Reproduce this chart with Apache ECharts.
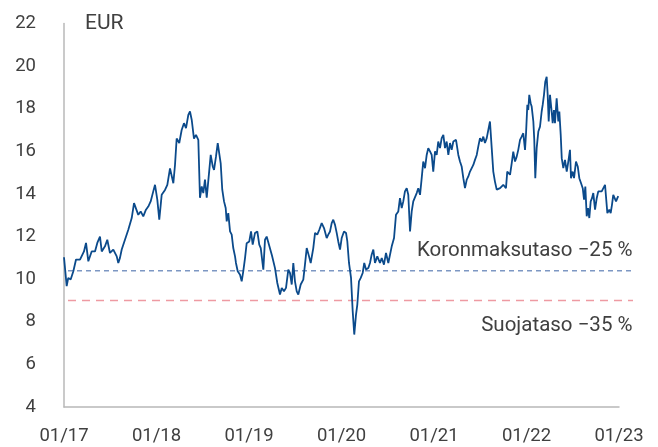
<!DOCTYPE html>
<html>
<head>
<meta charset="utf-8">
<script src="https://cdn.jsdelivr.net/npm/echarts@6/dist/echarts.min.js"></script>
<style>
html, body { margin: 0; padding: 0; background: #fff; }
#chart { width: 658px; height: 447px; }
</style>
</head>
<body>
<div id="chart"></div>
<script>
// x labels, one per January
var xLabels = ['01/17', '01/18', '01/19', '01/20', '01/21', '01/22', '01/23'];
var yTicks = [4, 6, 8, 10, 12, 14, 16, 18, 20, 22];

// date as decimal year, share price EUR
var dates = [
    2017.000, 2017.029, 2017.046, 2017.072, 2017.101, 2017.130, 2017.173, 2017.216, 2017.238, 2017.263,
    2017.299, 2017.335, 2017.360, 2017.389, 2017.408, 2017.443, 2017.468, 2017.497, 2017.533, 2017.570,
    2017.587, 2017.605, 2017.624, 2017.659, 2017.695, 2017.732, 2017.757, 2017.778, 2017.803, 2017.829,
    2017.857, 2017.886, 2017.911, 2017.937, 2017.965, 2017.984, 2018.009, 2018.030, 2018.056, 2018.092,
    2018.117, 2018.146, 2018.182, 2018.200, 2018.218, 2018.246, 2018.272, 2018.297, 2018.319, 2018.344,
    2018.362, 2018.381, 2018.405, 2018.427, 2018.452, 2018.470, 2018.489, 2018.506, 2018.524, 2018.543,
    2018.571, 2018.586, 2018.608, 2018.622, 2018.643, 2018.662, 2018.679, 2018.694, 2018.711, 2018.730,
    2018.748, 2018.759, 2018.776, 2018.795, 2018.813, 2018.830, 2018.849, 2018.859, 2018.878, 2018.903,
    2018.921, 2018.938, 2018.957, 2018.975, 2019.003, 2019.022, 2019.040, 2019.065, 2019.090, 2019.111,
    2019.127, 2019.155, 2019.173, 2019.191, 2019.216, 2019.249, 2019.281, 2019.306, 2019.335, 2019.354,
    2019.378, 2019.400, 2019.425, 2019.443, 2019.462, 2019.479, 2019.497, 2019.516, 2019.533, 2019.559,
    2019.587, 2019.605, 2019.624, 2019.649, 2019.667, 2019.695, 2019.714, 2019.738, 2019.760, 2019.786,
    2019.811, 2019.840, 2019.857, 2019.876, 2019.894, 2019.911, 2019.930, 2019.948, 2019.965, 2019.984,
    2020.002, 2020.027, 2020.049, 2020.063, 2020.081, 2020.103, 2020.121, 2020.138, 2020.157, 2020.171,
    2020.189, 2020.208, 2020.229, 2020.246, 2020.265, 2020.290, 2020.308, 2020.326, 2020.344, 2020.362,
    2020.387, 2020.416, 2020.435, 2020.459, 2020.481, 2020.506, 2020.543, 2020.568, 2020.589, 2020.614,
    2020.632, 2020.651, 2020.668, 2020.686, 2020.705, 2020.722, 2020.741, 2020.759, 2020.776, 2020.795,
    2020.813, 2020.830, 2020.849, 2020.867, 2020.884, 2020.903, 2020.921, 2020.938, 2020.957, 2020.975,
    2020.992, 2021.011, 2021.029, 2021.046, 2021.065, 2021.083, 2021.101, 2021.119, 2021.137, 2021.155,
    2021.173, 2021.191, 2021.209, 2021.238, 2021.263, 2021.281, 2021.299, 2021.317, 2021.335, 2021.354,
    2021.371, 2021.389, 2021.408, 2021.425, 2021.443, 2021.462, 2021.479, 2021.497, 2021.516, 2021.533,
    2021.551, 2021.570, 2021.587, 2021.605, 2021.624, 2021.641, 2021.659, 2021.678, 2021.695, 2021.714,
    2021.732, 2021.749, 2021.778, 2021.792, 2021.822, 2021.840, 2021.857, 2021.876, 2021.894, 2021.911,
    2021.930, 2021.948, 2021.965, 2021.984, 2021.995, 2022.009, 2022.019, 2022.030, 2022.045, 2022.056,
    2022.074, 2022.084, 2022.095, 2022.110, 2022.128, 2022.146, 2022.164, 2022.175, 2022.189, 2022.203,
    2022.218, 2022.229, 2022.240, 2022.254, 2022.272, 2022.283, 2022.297, 2022.308, 2022.326, 2022.344,
    2022.355, 2022.370, 2022.381, 2022.398, 2022.416, 2022.435, 2022.452, 2022.470, 2022.481, 2022.499,
    2022.514, 2022.535, 2022.554, 2022.571, 2022.589, 2022.608, 2022.622, 2022.636, 2022.651, 2022.665,
    2022.679, 2022.694, 2022.708, 2022.722, 2022.741, 2022.759, 2022.776, 2022.795, 2022.813, 2022.830,
    2022.849, 2022.859, 2022.874, 2022.895, 2022.910, 2022.924, 2022.938, 2022.957, 2022.968, 2022.982,
    2022.992
];
var price = [
    11.03, 9.67, 10.06, 9.98, 10.37, 10.92, 10.92, 11.30, 11.70, 10.84,
    11.30, 11.30, 11.70, 12.00, 11.30, 11.54, 11.85, 11.23, 11.39, 11.07,
    10.76, 11.00, 11.39, 11.85, 12.32, 12.87, 13.57, 13.49, 13.02, 13.18,
    12.95, 13.26, 13.41, 13.65, 14.12, 14.43, 13.72, 12.79, 13.96, 14.19,
    14.43, 15.20, 14.50, 15.36, 16.60, 16.39, 17.00, 17.32, 17.09, 17.71,
    17.87, 17.47, 16.60, 16.77, 16.54, 13.82, 14.35, 14.04, 14.67, 13.82,
    15.13, 15.83, 15.29, 15.13, 15.75, 16.39, 16.30, 15.44, 14.20, 13.65,
    13.34, 12.71, 13.10, 12.24, 12.09, 11.46, 11.07, 10.76, 10.37, 10.21,
    9.90, 10.37, 10.99, 11.69, 11.77, 12.24, 11.62, 12.17, 12.24, 11.62,
    11.46, 10.45, 11.85, 12.00, 11.62, 11.10, 10.52, 9.82, 9.28, 9.59,
    9.43, 9.59, 10.45, 10.29, 9.75, 10.76, 9.90, 9.43, 9.28, 9.75,
    9.98, 10.68, 11.46, 11.07, 10.76, 11.46, 12.17, 12.09, 12.32, 12.63,
    12.40, 11.93, 12.09, 12.24, 12.63, 12.79, 12.55, 12.17, 11.77, 11.39,
    11.93, 12.24, 12.17, 11.77, 10.76, 10.06, 8.50, 7.40, 8.34, 8.81,
    9.90, 10.06, 10.29, 10.76, 10.45, 10.52, 10.76, 11.15, 11.39, 10.76,
    11.07, 10.76, 10.99, 10.68, 11.23, 10.76, 11.54, 11.93, 13.02, 13.18,
    13.80, 13.34, 13.65, 14.12, 14.27, 13.96, 12.24, 13.18, 13.65, 13.73,
    14.04, 14.27, 13.96, 14.74, 15.52, 15.21, 15.83, 16.15, 16.00, 15.83,
    15.05, 16.00, 15.83, 16.46, 16.15, 16.62, 16.77, 16.15, 16.46, 15.83,
    16.39, 16.07, 16.46, 16.54, 15.83, 15.52, 15.29, 14.74, 14.27, 14.67,
    14.82, 15.05, 14.98, 15.36, 15.60, 15.83, 16.23, 16.62, 16.46, 16.69,
    16.39, 16.62, 16.69, 17.40, 16.15, 15.05, 14.58, 14.20, 14.12, 14.27,
    14.35, 14.43, 14.27, 15.05, 14.90, 15.44, 15.99, 15.52, 15.75, 16.07,
    16.54, 16.69, 16.85, 16.07, 16.85, 18.18, 17.94, 18.65, 18.26, 18.10,
    17.40, 16.54, 14.74, 16.15, 16.93, 17.16, 17.87, 18.18, 18.65, 19.27,
    19.50, 18.65, 17.40, 18.65, 17.87, 17.32, 17.94, 17.32, 18.49, 17.40,
    17.87, 16.77, 15.68, 15.21, 15.60, 15.05, 15.52, 16.07, 14.74, 15.05,
    14.74, 15.52, 15.29, 14.74, 14.51, 14.27, 13.73, 14.35, 12.95, 13.34,
    12.87, 13.65, 13.80, 14.04, 13.26, 13.80, 14.12, 14.04, 14.12, 14.20,
    14.43, 14.51, 13.10, 13.26, 13.10, 13.49, 13.96, 13.88, 13.65, 13.80,
    13.90
];

// reference levels
var levelValues = [10.39, 9.0];
var levelNames = ['Koronmaksutaso \u221225 %', 'Suojataso \u221235 %'];
var levelColors = ['#7d97c3', '#ee9aa2'];

$ready();
function $ready(){
    initChart();
}

function initChart(){
    var chart = echarts.init(document.getElementById('chart'));
    var textColor = '#404040';
    var font = 'Roboto';

    var priceData = [];
    for (var i = 0; i < dates.length; i++) {
        priceData.push([dates[i], price[i]]);
    }

    var levelSeries = levelValues.map(function(v, k){
        return {
            type: 'line',
            xAxisIndex: 1,
            yAxisIndex: 1,
            z: 1,
            symbol: 'none',
            silent: true,
            lineStyle: { color: levelColors[k], width: 1.5, type: k === 0 ? [5, 4] : [8, 6] },
            data: [[0, v], [1, v]],
            markPoint: {
                symbol: 'rect',
                symbolSize: 1,
                itemStyle: { color: 'rgba(0,0,0,0)' },
                data: [{ coord: [1, v] }],
                label: {
                    show: true,
                    position: 'left',
                    distance: 0,
                    offset: [0, k === 0 ? -20 : 25],
                    formatter: levelNames[k],
                    color: textColor,
                    fontSize: 20.5,
                    fontFamily: font
                }
            }
        };
    });

    var option = {
        animation: false,
        grid: [
            { left: 64, right: 39, top: 23.5, bottom: 40 },
            { left: 68, right: 25, top: 23.5, bottom: 40 }
        ],
        xAxis: [{
            type: 'value',
            gridIndex: 0,
            min: 2017,
            max: 2023,
            interval: 1,
            axisLine: { show: true, lineStyle: { color: '#b8b8b8', width: 1.5 } },
            axisTick: { show: false },
            splitLine: { show: false },
            axisLabel: {
                margin: 20,
                color: textColor,
                fontSize: 18.5,
                fontFamily: font,
                formatter: function(v){ return xLabels[Math.round(v - 2017)]; }
            }
        }, {
            type: 'value',
            gridIndex: 1,
            min: 0,
            max: 1,
            show: false
        }],
        yAxis: [{
            type: 'value',
            gridIndex: 0,
            min: yTicks[0],
            max: yTicks[yTicks.length - 1],
            interval: 2,
            name: 'EUR',
            nameLocation: 'end',
            nameGap: 0,
            nameTextStyle: {
                color: textColor,
                fontSize: 21,
                fontFamily: font,
                align: 'left',
                verticalAlign: 'middle',
                padding: [0, 0, 0, 21]
            },
            axisLine: { show: true, lineStyle: { color: '#b8b8b8', width: 1.5 } },
            axisTick: { show: false },
            splitLine: { show: false },
            axisLabel: { margin: 28, color: textColor, fontSize: 18.5, fontFamily: font }
        }, {
            type: 'value',
            gridIndex: 1,
            min: yTicks[0],
            max: yTicks[yTicks.length - 1],
            show: false
        }],
        series: levelSeries.concat([{
            name: 'Osake',
            type: 'line',
            xAxisIndex: 0,
            yAxisIndex: 0,
            z: 3,
            showSymbol: false,
            lineStyle: { color: '#0b4a8b', width: 1.8 },
            data: priceData
        }])
    };

    chart.setOption(option);
}
</script>
</body>
</html>
